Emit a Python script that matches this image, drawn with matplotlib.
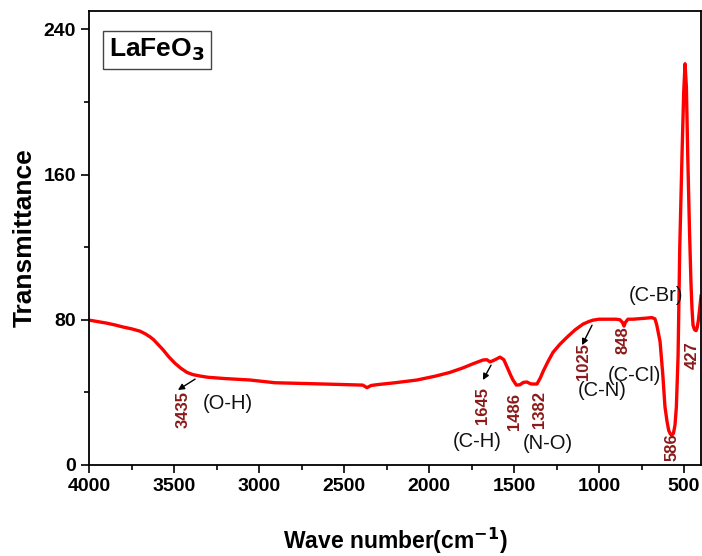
import matplotlib
matplotlib.use("Agg")
import matplotlib.pyplot as plt
from matplotlib.ticker import MultipleLocator

plt.rcParams['font.family'] = ['Liberation Sans', 'DejaVu Sans']

# FTIR spectrum of LaFeO3
wavenumber = [4000, 3950, 3900, 3850, 3800, 3750, 3700, 3670, 3640, 3620, 3600, 3580,
              3565, 3530, 3494, 3460, 3424, 3390, 3347, 3300, 3200, 3053, 2906, 2700,
              2465, 2390, 2365, 2340, 2300, 2200, 2071, 1960, 1877, 1800, 1740, 1683,
              1660, 1641, 1620, 1582, 1560, 1541, 1520, 1506, 1486, 1465, 1445, 1424,
              1405, 1394, 1365, 1345, 1329, 1300, 1271, 1230, 1188, 1140, 1094, 1060,
              1035, 1000, 950, 900, 877, 862, 853, 845, 830, 800, 760, 720, 690, 671,
              660, 641, 625, 612, 600, 590, 580, 571, 562, 553, 545, 535, 525, 512,
              502, 494, 486, 478, 468, 459, 453, 447, 438, 429, 422, 415, 408, 400]
transmittance = [79.8, 79.0, 78.2, 77.2, 76.0, 75.0, 73.7, 72.3, 70.5, 69.0, 67.0, 65.0,
                 63.5, 59.5, 56.0, 53.3, 51.0, 49.8, 49.0, 48.3, 47.6, 46.8, 45.3, 44.8,
                 44.2, 44.0, 42.6, 43.8, 44.3, 45.3, 46.8, 49.0, 51.0, 53.5, 55.8, 57.8,
                 58.0, 56.8, 57.6, 59.4, 58.0, 54.0, 49.5, 46.8, 44.0, 44.2, 45.5, 45.7,
                 44.8, 44.6, 44.6, 48.0, 51.5, 57.0, 62.0, 66.5, 70.4, 74.5, 77.6, 79.0,
                 79.8, 80.3, 80.3, 80.3, 80.0, 78.5, 76.5, 78.5, 80.3, 80.3, 80.6, 80.9,
                 81.2, 80.5, 77.0, 68.0, 50.0, 32.0, 24.0, 19.0, 17.0, 16.5, 17.5, 22.0,
                 32.0, 60.0, 120.0, 170.0, 205.0, 221.0, 208.0, 170.0, 130.0, 100.0, 86.0,
                 77.0, 74.5, 74.0, 76.0, 80.0, 86.0, 93.0]

# peak annotations: label, text x, text y
peak_labels = ["3435", "1645", "1486", "1382", "1025", "848", "586", "427"]
peak_text_x = [3447, 1683, 1500, 1353, 1094, 859, 571, 453]
peak_text_y = [30.8, 33.0, 29.2, 30.3, 56.7, 68.8, 9.9, 60.5]

# arrows: (tip x, tip y) and (tail x, tail y)
arrow_tip = [(3477, 41.3), (1683, 46.8), (1100, 66.0)]
arrow_tail = [(3376, 47.3), (1635, 55.0), (1041, 77.0)]

bond_labels = ["(O-H)", "(C-H)", "(N-O)", "(C-N)", "(C-Cl)", "(C-Br)"]
bond_x = [3182, 1718, 1300, 983, 794, 665]
bond_y = [34.1, 12.7, 12.1, 41.3, 49.5, 93.6]

fig = plt.figure(figsize=(7.02, 5.56), dpi=100)
ax = fig.add_axes([0.1268, 0.1637, 0.8718, 0.8163])

ax.plot(wavenumber, transmittance, color='#ff0000', lw=2.4, solid_joinstyle='round')

ax.set_xlim(4000, 400)
ax.set_ylim(0, 250)
ax.xaxis.set_major_locator(MultipleLocator(500))
ax.xaxis.set_minor_locator(MultipleLocator(250))
ax.yaxis.set_major_locator(MultipleLocator(80))
ax.yaxis.set_minor_locator(MultipleLocator(40))
ax.tick_params(which='both', direction='out', width=1.2)
ax.tick_params(which='major', length=6, labelsize=14)
ax.tick_params(which='minor', length=3.5)
for lab in ax.get_xticklabels() + ax.get_yticklabels():
    lab.set_fontweight('bold')
for sp in ax.spines.values():
    sp.set_linewidth(1.3)

ax.set_xlabel("Wave number(cm$^{\\mathbf{-1}}$)", fontsize=16.5, fontweight='bold', labelpad=22)
ax.set_ylabel("Transmittance", fontsize=19, fontweight='bold', labelpad=5)

for lab, x, y in zip(peak_labels, peak_text_x, peak_text_y):
    ax.text(x, y, lab, rotation=90, ha='center', va='center', color='#8b1a1a',
            fontsize=12, fontweight='bold')

for tip, tail in zip(arrow_tip, arrow_tail):
    ax.annotate("", xy=tip, xytext=tail,
                arrowprops=dict(arrowstyle='-|>', color='black', lw=1.0,
                                mutation_scale=9, shrinkA=0, shrinkB=0))

for lab, x, y in zip(bond_labels, bond_x, bond_y):
    ax.text(x, y, lab, ha='center', va='center', color='#111111', fontsize=14.5)

ax.text(0.033, 0.915, "LaFeO$_\\mathbf{3}$", transform=ax.transAxes, fontsize=19,
        fontweight='bold', ha='left', va='center',
        bbox=dict(boxstyle='square,pad=0.22', fc='white', ec='#444444', lw=1.0))

fig.savefig("out.png", dpi=100)
